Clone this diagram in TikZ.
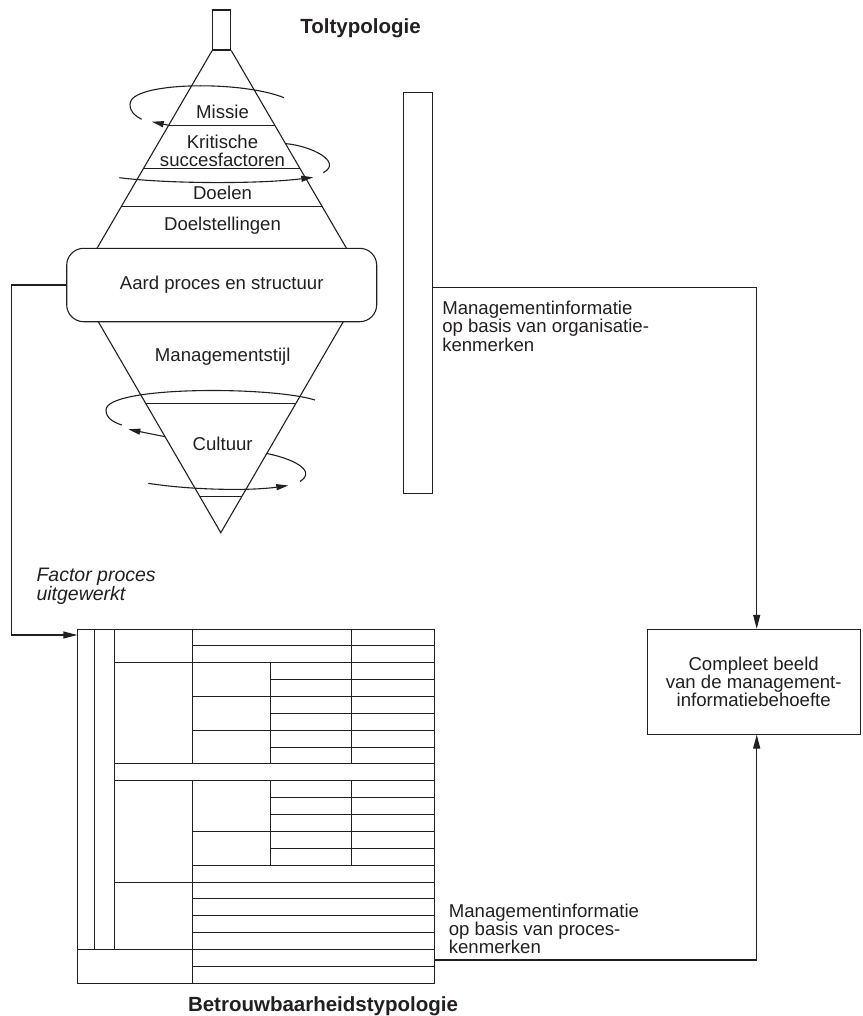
\documentclass[tikz,border=0pt]{standalone}
\usepackage{fontspec}
\setmainfont{Liberation Sans}
\usetikzlibrary{arrows.meta,calc}
\definecolor{ink}{RGB}{35,31,32}
\begin{document}
\begin{tikzpicture}[x=1pt,y=-1pt,line width=1.1pt,color=ink,
  txt/.style={font=\fontsize{18.6}{18.3}\selectfont, inner sep=0pt},
  boldtxt/.style={font=\fontsize{20.5}{22}\selectfont\bfseries, inner sep=0pt},
  arr/.style={-{Triangle[length=14pt,width=7pt]}},
  spin/.style={-{Triangle[length=12pt,width=6pt]}},
  box/.style={draw, inner sep=0pt}]
\useasboundingbox (0,0) rectangle (862,1016);

% ---------- top spinning top ----------
\node[box, minimum width=18pt, minimum height=40pt] (stem) at (221.7,30) {};
\coordinate (TL) at (stem.south west);
\coordinate (TR) at (stem.south east);
\coordinate (BL) at (97,248.3);
\coordinate (BR) at (346.5,248.3);
\draw (TL) -- (BL);
\draw (TR) -- (BR);
\draw ($(TL)!0.378!(BL)$) coordinate (m1) -- ($(TR)!0.378!(BR)$);
\draw ($(TL)!0.595!(BL)$) -- ($(TR)!0.595!(BR)$);
\draw ($(TL)!0.790!(BL)$) -- ($(TR)!0.790!(BR)$);

\node[txt, anchor=base] (missie) at (222.5,118.4) {Missie};
\node[txt, align=center, anchor=north, font=\fontsize{18.6}{17.6}\selectfont] (ksf) at (222.5,134.6) {Kritische\\succesfactoren};
\node[txt, anchor=base] (doelen) at (222.5,199.4) {Doelen};
\node[txt, anchor=base] (doelst) at (222.5,230.7) {Doelstellingen};

\node[draw, rounded corners=17pt, minimum width=310pt, minimum height=73.4pt, txt] (aard) at (221.7,285) {Aard proces en structuur};

% ---------- bottom cone ----------
\coordinate (UL) at (98.3,321.7);
\coordinate (UR) at (343.3,321.7);
\coordinate (AP) at (220.8,532.7);
\draw (UL) -- (AP) -- (UR);
\draw ($(UL)!0.3867!(AP)$) -- ($(UR)!0.3867!(AP)$);
\draw ($(UL)!0.8294!(AP)$) -- ($(UR)!0.8294!(AP)$);
\node[txt, anchor=base] (mstijl) at (222.7,361.7) {Managementstijl};
\node[txt, anchor=base] (cult) at (222.7,450.7) {Cultuur};

% ---------- spin arrows ----------
\draw (284,97.7) .. controls (240,80) and (130,82) .. (130,104)
      .. controls (130,112) and (135,116) .. (141.7,119.3);
\draw[spin] (m1) -- (151.7,121.7);
\draw ($(TR)!0.4705!(BR)$) .. controls (312,146) and (343,162) .. (323.3,172.7);
\draw[spin] (119.3,177.7) .. controls (170,184) and (260,184) .. (313.3,177.3);

\draw (315,400) .. controls (270,386) and (106,386) .. (106,410)
      .. controls (106,418) and (113,422) .. (121.7,425);
\draw[spin] ($(UL)!0.545!(AP)$) -- (128.3,429.3);
\draw ($(UR)!0.6246!(AP)$) .. controls (290,458) and (318,470) .. (300,481.5);
\draw[spin] (148.3,483.3) .. controls (190,490) and (250,491) .. (288.3,485.5);

\node[boldtxt, anchor=base] (tol) at (360.5,34) {Toltypologie};

% ---------- right column ----------
\node[box, minimum width=29pt, minimum height=400.6pt] (mi) at (417.8,293) {};
\node[txt, align=left, anchor=north west] (orgt) at (441.7,300.4) {Managementinformatie\\op basis van organisatie-\\kenmerken};

\node[draw, txt, align=center, minimum width=212.7pt, minimum height=104.7pt] (cb) at (753.7,681.7) {Compleet beeld\\van de management-\\informatiebehoefte};

% ---------- table ----------
\begin{scope}[shift={(0,629)}, y=-16.87pt, line width=1pt]
\draw (77.3,0) rectangle (434.3,21);
\foreach \x/\a/\b in {94/0/19, 114.3/0/19, 192.3/0/8, 192.3/9/21, 270.3/2/8, 270.3/9/14, 351.7/0/8, 351.7/9/14}
  \draw (\x,\a) -- (\x,\b);
\foreach \r in {3,5,7,10,11,13} \draw (270.3,\r) -- (434.3,\r);
\foreach \r in {1,4,6,12,14,16,17,18,20} \draw (192.3,\r) -- (434.3,\r);
\foreach \r in {2,8,9,15} \draw (114.3,\r) -- (434.3,\r);
\draw (77.3,19) -- (434.3,19);
\end{scope}
\coordinate (tin) at (77.3,635);
\coordinate (tout) at (434.3,960);

\node[txt, font=\fontsize{19.5}{16.7}\selectfont\itshape, align=left, anchor=north west] (fpu) at (36,567.5) {Factor proces\\uitgewerkt};
\node[txt, align=left, anchor=north west] (proct) at (448.3,903.1) {Managementinformatie\\op basis van proces-\\kenmerken};
\node[boldtxt, anchor=base] (betr) at (323,1011) {Betrouwbaarheidstypologie};

% ---------- connectors ----------
\draw[arr] (aard.west) -- ++(-55,0) |- (tin);
\draw[arr] ([yshift=5.7pt]mi.east) -| ([xshift=3pt]cb.north);
\draw[arr] (tout) -| ([xshift=3pt]cb.south);
\end{tikzpicture}
\end{document}
